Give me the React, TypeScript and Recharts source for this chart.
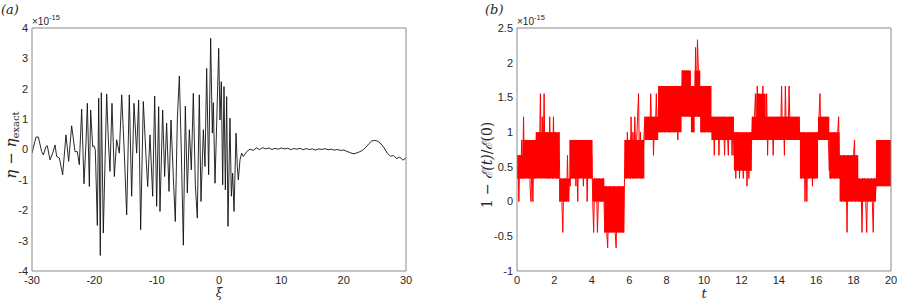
import React from 'react';
import { ComposedChart, Line, Area, XAxis, YAxis } from 'recharts';

// panel (a): interface error, units of 1e-15
const XI = [
  -30, -29.36, -28.98, -28.45, -28.18, -27.75, -27.54, -27.11, -26.68, -26.31,
  -26.04, -25.61, -25.08, -24.55, -24.12, -23.64, -23.1, -22.73, -22.41, -22.03,
  -21.66, -21.34, -21.12, -20.8, -20.59, -20.27, -20.05, -19.84, -19.52, -19.3,
  -19.04, -18.88, -18.56, -18.02, -17.75, -17.49, -17.17, -16.79, -16.42, -15.99,
  -15.61, -15.19, -14.81, -14.39, -14.01, -13.64, -13.21, -12.89, -12.57, -12.14,
  -11.71, -11.44, -11.07, -10.64, -10.32, -10.0, -9.68, -9.47, -9.04, -8.72,
  -8.4, -8.02, -7.7, -7.33, -7.01, -6.68, -6.36, -6.04, -5.72, -5.4,
  -5.08, -4.76, -4.44, -4.12, -3.8, -3.48, -3.16, -2.89, -2.51, -2.25,
  -1.98, -1.66, -1.34, -1.07, -0.91, -0.64, -0.37, -0.05, 0.16, 0.37,
  0.59, 0.8, 1.02, 1.23, 1.44, 1.76, 1.98, 2.19, 2.41, 2.73,
  2.94, 3.1, 3.37, 3.64, 3.9, 4.44, 4.97, 5.5, 6, 6.5,
  7, 7.5, 8, 8.5, 9, 9.5, 10, 10.5, 11, 11.5,
  12, 12.5, 13, 13.5, 14, 14.5, 15, 15.5, 16, 16.5,
  17, 17.5, 18, 18.5, 19, 19.5, 20, 20.5, 21, 21.5,
  22, 22.5, 23, 23.5, 24, 24.5, 25, 25.5, 26, 26.5,
  27, 27.5, 28, 28.5, 29, 29.5, 30,
];
const ETA = [
  -0.12, 0.41, 0.41, -0.07, -0.18, 0.1, 0.12, -0.34, -0.12, 0.15,
  -0.23, -0.28, -0.83, 0.48, -0.39, 0.78, -0.07, -0.07, -0.5, 1.33,
  -1.13, 0.21, 1.52, -1.22, 1.3, 0.1, 0.12, -0.01, -2.5, 1.69,
  -3.49, 1.87, -2.75, 1.83, 0.32, -0.72, 1.52, -0.89, 0.32, -0.12,
  1.8, -0.12, -2.15, 1.8, -1.54, 1.52, -0.12, 1.63, -2.64, 1.58,
  -0.23, -1.22, 0.48, -1.54, 1.76, -1.87, 1.41, -2.04, 1.3, -0.89,
  0.87, -1.38, 0.97, -0.89, -2.37, 1.03, 2.42, -0.12, -3.15, 1.43,
  -1.43, 0.65, -0.67, 1.85, -1.16, -2.26, 1.8, -1.71, 0.65, -0.56,
  2.67, -0.83, 3.66, 0.54, 1.54, -1.11, 0.87, 3.33, 0.97, 2.23,
  -1.16, 2.07, -1.33, 1.74, -2.53, 1.03, -1.54, -0.78, -2.04, 0.54,
  -0.56, -1.0, -0.34, -0.12, -0.23, -0.07, 0.01, -0.03, 0.05, 0.0,
  0.06, 0.02, 0.05, 0.0, 0.04, 0.01, 0.05, 0.02, 0.04, 0.0,
  0.03, 0.01, 0.04, -0.01, 0.03, 0.0, 0.02, -0.02, 0.02, 0.0,
  0.03, -0.01, 0.01, -0.02, 0.0, -0.03, -0.02, -0.06, -0.1, -0.14,
  -0.12, -0.08, -0.03, 0.06, 0.18, 0.28, 0.3, 0.27, 0.18, 0.05,
  -0.12, -0.22, -0.2, -0.3, -0.25, -0.35, -0.28,
];
const XI_TICKS = [-30, -20, -10, 0, 10, 20, 30];
const ETA_TICKS = [-4, -3, -2, -1, 0, 1, 2, 3, 4];

// panel (b): energy drift, counted in rounding quanta (2^-53), one sample every 0.05
const T_STEP = 0.05;
const QUANTUM = 0.111; // 2^-53 in units of 1e-15
const ENERGY_Q = [
  3, 6, 0, 6, 3, 8, 3, 11, 3, 8, 4, 8, 3, 8, 2, 0, 6, 0, 8, 3,
  6, 9, 4, 9, 6, 14, 4, 11, 6, 14, 4, 9, 6, 9, 3, 11, 4, 9, 3, 11,
  4, 9, 3, 8, 3, 9, 0, 3, 0, -4, 3, 0, 3, 0, 6, 0, 3, 2, 8, 3,
  6, 3, 8, 2, 6, 0, 8, 3, 6, 4, 8, 2, 6, 3, 8, 0, 6, 3, 8, 3,
  6, 0, -4, 3, 0, 3, -4, 0, 3, 0, 2, 0, 3, 0, -4, 2, -4, -6, 0, -4,
  2, -4, 0, -4, 2, -4, -6, 0, -4, 2, -4, 0, -4, 2, -4, 3, 8, 3, 9, 4,
  8, 3, 11, 4, 9, 3, 11, 6, 8, 11, 14, 4, 9, 3, 8, 6, 9, 11, 8, 11,
  9, 11, 8, 14, 9, 11, 6, 11, 9, 14, 8, 11, 15, 9, 14, 9, 15, 11, 9, 15,
  11, 14, 9, 15, 9, 14, 11, 15, 9, 14, 11, 15, 8, 14, 11, 15, 12, 17, 12, 17,
  12, 17, 14, 17, 12, 15, 11, 15, 9, 14, 11, 20, 12, 21, 17, 11, 15, 9, 15, 9,
  14, 9, 15, 11, 15, 9, 14, 9, 11, 8, 11, 6, 11, 8, 9, 11, 6, 11, 8, 11,
  8, 11, 6, 11, 8, 9, 6, 11, 8, 11, 6, 11, 6, 9, 3, 9, 6, 9, 3, 8,
  6, 9, 3, 8, 4, 9, 2, 8, 3, 9, 4, 8, 11, 9, 11, 14, 8, 15, 9, 14,
  11, 8, 11, 15, 9, 11, 8, 14, 6, 11, 8, 11, 9, 11, 6, 11, 8, 11, 9, 11,
  8, 11, 9, 15, 8, 11, 6, 15, 9, 11, 8, 15, 9, 11, 8, 11, 9, 11, 8, 11,
  9, 11, 8, 9, 3, 8, 4, 9, 0, 6, 0, 8, 3, 9, 4, 8, 2, 9, 3, 8,
  4, 9, 8, 11, 14, 8, 11, 9, 11, 8, 11, 9, 11, 8, 4, 9, 3, 8, 4, 9,
  3, 8, 4, 9, 11, 3, 6, 0, 4, 2, 6, 0, 4, -4, 6, 0, 3, 6, 0, 4,
  6, 8, 0, 6, 3, 0, 3, 0, 2, -4, 3, 0, 3, 0, -4, 3, 0, 2, 0, 3,
  0, -4, 3, 0, 2, 6, 2, 8, 3, 6, 2, 8, 3, 6, 2, 8, 4, 6, 2, 8,
  6,
];
// densely filled core of the oscillation (where the trace looks solid), in quanta
const BAND_T = [0, 0.3, 1.0, 2.26, 2.8, 4.04, 4.67, 5.74, 6.81, 7.55, 8.8, 9.3, 9.5, 9.8, 10.4, 11.6, 12.55, 12.8, 13.3, 15.13, 16.1, 16.7, 17.25, 17.96, 18.25, 19.2, 20];
const BAND_LO = [3, 3, 3, 0, 3, 0, -4, 3, 8, 9, 11, 9, 11, 9, 8, 4, 8, 8, 8, 3, 8, 3, 0, 0, 0, 2, 2];
const BAND_HI = [6, 8, 9, 3, 8, 3, 2, 8, 11, 15, 17, 15, 17, 15, 11, 9, 11, 14, 11, 9, 11, 9, 6, 6, 3, 8, 8];
const T_TICKS = [0, 2, 4, 6, 8, 10, 12, 14, 16, 18, 20];
const E_TICKS = [-1, -0.5, 0, 0.5, 1, 1.5, 2, 2.5];

const AXIS = '#8a8a8a';
const TXT = '#262626';
const SANS = '"Liberation Sans", Arial, sans-serif';
const SERIF = '"DejaVu Serif", "Liberation Serif", serif';

const dataA = XI.map((x, i) => ({ x, y: ETA[i] }));
const dataB = ENERGY_Q.map((q, i) => ({ x: +(i * T_STEP).toFixed(2), y: q * QUANTUM }));
const bandB = BAND_T.map((x, i) => ({ x, range: [BAND_LO[i] * QUANTUM, BAND_HI[i] * QUANTUM] }));

// frame with inward ticks on all four sides, labels on bottom and left
// (axes of size 0 are not drawn by recharts, hence the 1px sizes)
function boxAxes(xd: number[], xt: number[], yd: number[], yt: number[]) {
  const common = { type: 'number' as const, allowDataOverflow: true };
  const lab = { fill: TXT, fontSize: 11, fontFamily: SANS };
  return [
    <XAxis key="xb" xAxisId="b" dataKey="x" {...common} domain={xd} ticks={xt} interval={0}
      height={1} tickSize={0} tickLine={false} tickMargin={5} axisLine={{ stroke: AXIS }} tick={lab} />,
    <XAxis key="xbi" xAxisId="bi" {...common} domain={xd} ticks={xt} interval={0} mirror
      height={1} tickSize={4} tick={false} tickLine={{ stroke: AXIS }} axisLine={false} />,
    <XAxis key="xt" xAxisId="t" orientation="top" {...common} domain={xd} ticks={xt} interval={0} mirror
      height={1} tickSize={4} tick={false} tickLine={{ stroke: AXIS }} axisLine={{ stroke: AXIS }} />,
    <YAxis key="yl" yAxisId="l" {...common} domain={yd} ticks={yt} interval={0}
      width={1} tickSize={0} tickLine={false} tickMargin={4} axisLine={{ stroke: AXIS }} tick={lab} />,
    <YAxis key="yli" yAxisId="li" {...common} domain={yd} ticks={yt} interval={0} mirror
      width={1} tickSize={4} tick={false} tickLine={{ stroke: AXIS }} axisLine={false} />,
    <YAxis key="yr" yAxisId="r" orientation="right" {...common} domain={yd} ticks={yt} interval={0} mirror
      width={1} tickSize={4} tick={false} tickLine={{ stroke: AXIS }} axisLine={{ stroke: AXIS }} />,
  ];
}

export default function App() {
  return (
    <div style={{ position: 'absolute', left: 0, top: 0, width: 897, height: 301, background: '#fff' }}>
      <div style={{ position: 'absolute', left: 0, top: 0 }}>
        <ComposedChart width={420} height={301} data={dataA} margin={{ top: 28, right: 14, bottom: 29, left: 31 }}>
          {boxAxes([-30, 30], XI_TICKS, [-4, 4], ETA_TICKS)}
          <Line xAxisId="b" yAxisId="l" dataKey="y" stroke="#111" strokeWidth={0.9}
            dot={false} isAnimationActive={false} />
        </ComposedChart>
      </div>
      <div style={{ position: 'absolute', left: 480, top: 0 }}>
        <ComposedChart width={417} height={301} margin={{ top: 28, right: 6, bottom: 29, left: 36 }}>
          {boxAxes([0, 20], T_TICKS, [-1, 2.5], E_TICKS)}
          <Area xAxisId="b" yAxisId="l" data={bandB} dataKey="range" type="stepAfter"
            stroke="none" fill="#ff0000" fillOpacity={1} isAnimationActive={false} />
          <Line xAxisId="b" yAxisId="l" data={dataB} dataKey="y" stroke="#ff0000" strokeWidth={1}
            dot={false} isAnimationActive={false} />
        </ComposedChart>
      </div>
      {/* titles, exponents and axis labels */}
      <svg width={897} height={301} style={{ position: 'absolute', left: 0, top: 0, pointerEvents: 'none' }}>
        <text x={1} y={14} fontFamily={SERIF} fontStyle="italic" fontSize={13} fill={TXT}>(a)</text>
        <text x={485} y={14} fontFamily={SERIF} fontStyle="italic" fontSize={13} fill={TXT}>(b)</text>

        <text x={32} y={25} fontFamily={SANS} fontSize={10} fill={TXT}>
          ×10<tspan dy={-5} fontSize={7.5}>-15</tspan>
        </text>
        <text x={517} y={25} fontFamily={SANS} fontSize={10} fill={TXT}>
          ×10<tspan dy={-5} fontSize={7.5}>-15</tspan>
        </text>

        <text transform="translate(16,145) rotate(-90)" textAnchor="middle" fontFamily={SERIF} fontSize={15} fill={TXT}>
          <tspan fontStyle="italic">η</tspan> − <tspan fontStyle="italic">η</tspan>
          <tspan dy={3} fontSize={10}>exact</tspan>
        </text>
        <text transform="translate(492,165) rotate(-90)" textAnchor="middle" fontFamily={SERIF} fontSize={14} fill={TXT}>
          1 − <tspan fontStyle="italic">ℰ(t)</tspan>/<tspan fontStyle="italic">ℰ</tspan>(0)
        </text>

        <text x={219} y={297} textAnchor="middle" fontFamily={SERIF} fontStyle="italic" fontSize={12} fill={TXT}>ξ</text>
        <text x={704} y={298} textAnchor="middle" fontFamily={SERIF} fontStyle="italic" fontSize={13} fill={TXT}>t</text>
      </svg>
    </div>
  );
}
